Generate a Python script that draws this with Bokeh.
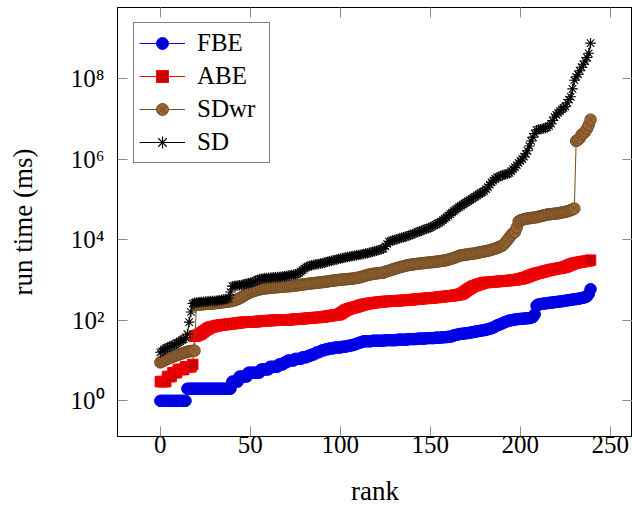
from bokeh.plotting import figure
from bokeh.models import Range1d, FixedTicker, LinearAxis, LogAxis, Legend, LegendItem
from bokeh.embed import file_html
from bokeh.resources import INLINE

# ---------------- data ----------------
fbe = [
    1, 1, 1, 1, 1, 1, 1, 1, 1, 1,
    1, 1, 1, 1, 1, 2, 2, 2, 2, 2,
    2, 2, 2, 2, 2, 2, 2, 2, 2, 2,
    2, 2, 2, 2, 2, 2, 2, 2, 2, 2,
    3, 3, 3, 3, 4, 4, 4, 4, 4, 5,
    5, 5, 5, 5, 5, 5, 6, 6, 6, 6,
    6, 7, 7, 7, 7, 7, 8, 8, 8, 9,
    9, 10, 10, 10, 10, 11, 11, 11, 11, 12,
    12, 12, 13, 13, 14, 14, 15, 16, 16, 17,
    18, 18, 19, 19, 20, 20, 20, 21, 21, 21,
    21, 22, 22, 22, 23, 23, 24, 24, 25, 26,
    27, 28, 29, 30, 30, 30, 30, 30, 31, 31,
    31, 31, 31, 31, 31, 32, 32, 32, 32, 32,
    32, 32, 33, 33, 33, 33, 33, 33, 34, 34,
    34, 34, 34, 35, 35, 35, 35, 35, 36, 36,
    36, 36, 36, 37, 37, 37, 37, 38, 38, 38,
    39, 39, 40, 42, 43, 44, 45, 46, 46, 47,
    48, 48, 49, 50, 51, 52, 53, 54, 55, 56,
    57, 58, 60, 62, 63, 66, 70, 74, 77, 80,
    84, 88, 92, 95, 98, 100, 102, 104, 106, 107,
    108, 109, 110, 111, 112, 113, 116, 120, 140, 230,
    245, 250, 255, 258, 262, 266, 270, 273, 277, 280,
    284, 287, 291, 295, 300, 305, 310, 315, 320, 325,
    330, 335, 340, 348, 355, 362, 372, 390, 450, 590,
]

abe = [
    3, 3, 3, 3, 4, 4, 4, 5, 5, 5,
    6, 6, 6, 6, 7, 7, 7, 7, 8, 40,
    41, 43, 45, 48, 52, 56, 60, 64, 67, 69,
    70, 72, 74, 75, 76, 77, 78, 79, 80, 81,
    82, 83, 84, 85, 86, 88, 89, 89, 90, 90,
    91, 91, 91, 92, 93, 94, 95, 96, 97, 97,
    98, 98, 99, 99, 100, 100, 100, 101, 101, 102,
    102, 102, 103, 104, 105, 106, 107, 108, 108, 109,
    110, 111, 112, 113, 114, 115, 116, 117, 118, 119,
    120, 122, 124, 126, 128, 130, 132, 134, 136, 138,
    145, 155, 165, 178, 185, 192, 198, 204, 209, 215,
    222, 230, 238, 245, 251, 256, 260, 264, 268, 272,
    276, 280, 283, 286, 289, 291, 293, 295, 297, 299,
    301, 303, 305, 307, 309, 311, 313, 315, 316, 320,
    324, 328, 332, 335, 338, 341, 344, 347, 350, 353,
    356, 359, 362, 366, 370, 375, 380, 384, 388, 392,
    396, 400, 405, 410, 418, 425, 435, 445, 468, 500,
    540, 580, 620, 660, 700, 720, 750, 780, 800, 830,
    860, 865, 870, 875, 880, 890, 900, 910, 920, 930,
    940, 950, 955, 960, 970, 980, 990, 1000, 1020, 1040,
    1060, 1090, 1120, 1150, 1200, 1250, 1300, 1350, 1400, 1450,
    1480, 1520, 1560, 1600, 1660, 1700, 1740, 1780, 1820, 1860,
    1900, 1930, 1960, 2000, 2050, 2100, 2200, 2300, 2400, 2500,
    2600, 2650, 2700, 2750, 2800, 2850, 2900, 2950, 3000, 3100,
]

sdwr = [
    9.0, 9.5, 10, 10.5, 11, 11.5, 12, 12.5, 13, 13.5,
    14, 14.5, 15, 15.5, 16, 16.5, 17, 17, 17.5, 17.5,
    240, 242, 245, 248, 250, 252, 254, 256, 258, 260,
    263, 266, 270, 273, 276, 280, 284, 288, 292, 296,
    302, 310, 320, 335, 350, 370, 395, 420, 445, 470,
    495, 515, 537, 550, 565, 580, 595, 605, 615, 622,
    630, 635, 642, 648, 655, 661, 667, 673, 679, 685,
    690, 695, 700, 707, 715, 725, 735, 747, 760, 770,
    780, 790, 800, 810, 820, 830, 840, 850, 860, 870,
    880, 890, 905, 920, 935, 950, 960, 970, 985, 1000,
    1010, 1020, 1030, 1040, 1050, 1060, 1070, 1080, 1100, 1120,
    1140, 1170, 1200, 1240, 1280, 1320, 1350, 1380, 1410, 1430,
    1450, 1470, 1490, 1500, 1510, 1600, 1650, 1700, 1760, 1820,
    1880, 1940, 2000, 2060, 2120, 2180, 2240, 2300, 2345, 2380,
    2420, 2450, 2480, 2520, 2550, 2580, 2610, 2640, 2670, 2700,
    2730, 2760, 2790, 2820, 2860, 2900, 2950, 3000, 3050, 3100,
    3200, 3300, 3400, 3500, 3650, 3800, 3980, 4050, 4120, 4190,
    4260, 4330, 4400, 4450, 4510, 4570, 4680, 4790, 4900, 5000,
    5100, 5200, 5300, 5450, 5620, 5800, 6000, 6200, 6500, 6800,
    7100, 7800, 8800, 10000, 11500, 13000, 14500, 15500, 20000, 28000,
    30000, 31000, 32000, 33000, 33500, 34000, 34500, 35000, 35500, 36000,
    37000, 38000, 39000, 40000, 41000, 42000, 42500, 43000, 43500, 44000,
    44500, 45000, 46000, 47000, 48000, 49000, 50000, 52000, 54000, 56000,
    59000, 2.8e6, 3.0e6, 3.3e6, 4.0e6, 4.3e6, 4.8e6, 5.6e6, 7.0e6, 9.5e6,
]

sd = [
    16, 17, 19, 20, 21, 22, 23, 24, 25, 27,
    28, 30, 32, 34, 37, 45, 90, 160, 260, 270,
    275, 280, 282, 285, 288, 290, 292, 295, 298, 300,
    302, 305, 310, 315, 320, 325, 330, 340, 355, 500,
    700, 710, 720, 730, 740, 750, 770, 790, 810, 830,
    850, 880, 910, 950, 1000, 1050, 1070, 1090, 1110, 1120,
    1130, 1140, 1150, 1160, 1170, 1180, 1190, 1200, 1220, 1240,
    1260, 1280, 1300, 1320, 1350, 1380, 1420, 1480, 1600, 1750,
    1900, 2050, 2150, 2250, 2300, 2350, 2400, 2450, 2500, 2550,
    2600, 2680, 2760, 2840, 2920, 3000, 3070, 3140, 3220, 3300,
    3380, 3460, 3540, 3620, 3700, 3780, 3860, 3940, 4000, 4080,
    4160, 4240, 4320, 4400, 4500, 4600, 4700, 4850, 5000, 5150,
    5300, 5450, 5600, 5800, 6000, 6800, 7800, 8900, 9200, 9500,
    9800, 10100, 10400, 10800, 11100, 11400, 11800, 12200, 12600, 13100,
    13600, 14200, 14800, 15400, 16000, 16600, 17300, 18000, 18700, 19400,
    20000, 21200, 22400, 23600, 24900, 26400, 28000, 30500, 33000, 36000,
    39500, 43000, 47000, 51000, 55500, 60000, 64000, 69000, 74000, 79000,
    84000, 90000, 96000, 103000, 110000, 117000, 125000, 134000, 143000, 152000,
    160000, 180000, 200000, 230000, 263000, 290000, 320000, 350000, 355000, 380000,
    400000, 410000, 420000, 430000, 450000, 500000, 560000, 620000, 700000, 800000,
    900000, 1.0e6, 1.15e6, 1.35e6, 1.6e6, 2.1e6, 2.8e6, 3.5e6, 4.3e6, 5.2e6,
    5.4e6, 5.5e6, 5.6e6, 5.7e6, 5.9e6, 6.2e6, 6.6e6, 7.5e6, 9.0e6, 1.1e7,
    1.25e7, 1.4e7, 1.55e7, 1.7e7, 1.85e7, 2.0e7, 2.5e7, 3.0e7, 3.5e7, 5.5e7,
    9.0e7, 1.1e8, 1.25e8, 1.55e8, 1.9e8, 2.25e8, 2.7e8, 3.3e8, 4.2e8, 7.5e8,
]

x_ticks = [0, 50, 100, 150, 200, 250]
y_ticks = [1, 1e2, 1e4, 1e6, 1e8]
y_tick_labels = {1: "10⁰", 100: "10²", 10000: "10⁴", 1000000: "10⁶", 100000000: "10⁸"}

FONT = "Liberation Serif"
FS_TICK = "25px"
FS_LABEL = "27px"
FS_LEGEND = "25px"

X_START, X_END = -23.8, 262.3

p = figure(
    width=632, height=508,
    x_range=Range1d(X_START, X_END),
    y_range=Range1d(10 ** -0.885, 10 ** 9.76),
    y_axis_type="log",
    output_backend="svg", toolbar_location=None,
    min_border_left=117, min_border_right=0, min_border_top=7, min_border_bottom=71,
)
p.background_fill_color = "white"
p.border_fill_color = "white"
p.outline_line_color = "black"
p.outline_line_width = 1
p.xgrid.visible = False
p.ygrid.visible = False


def style_axis(ax, labels=True):
    ax.axis_line_color = "black"
    ax.axis_line_width = 1
    ax.major_tick_in = 10
    ax.major_tick_out = 0
    ax.major_tick_line_color = "#8c8c8c"
    ax.major_tick_line_width = 1
    ax.minor_tick_in = 0
    ax.minor_tick_out = 0
    ax.minor_tick_line_color = None
    ax.major_label_text_font = FONT
    ax.major_label_text_color = "black"
    ax.axis_label_text_font = FONT
    ax.axis_label_text_font_style = "normal"
    ax.axis_label_text_font_size = FS_LABEL
    ax.axis_label_text_color = "black"
    if labels:
        ax.major_label_text_font_size = FS_TICK
    else:
        ax.major_label_text_font_size = "0px"
        ax.major_label_standoff = 0


xax = p.xaxis[0]
xax.ticker = FixedTicker(ticks=x_ticks)
style_axis(xax)
xax.major_label_standoff = -1
xax.axis_label = "rank"
xax.axis_label_standoff = 20

yax = p.yaxis[0]
yax.ticker = FixedTicker(ticks=y_ticks)
yax.major_label_overrides = y_tick_labels
style_axis(yax)
yax.major_label_standoff = 13
yax.axis_label = "run time (ms)"
yax.axis_label_standoff = 30

top = LinearAxis(ticker=FixedTicker(ticks=x_ticks))
style_axis(top, labels=False)
top.major_label_overrides = {t: "" for t in x_ticks}
p.add_layout(top, "above")

right = LogAxis(ticker=FixedTicker(ticks=y_ticks))
style_axis(right, labels=False)
right.major_label_overrides = {1: "", 100: "", 10000: "", 1000000: "", 100000000: ""}
p.add_layout(right, "right")

rank = list(range(len(fbe)))

l1 = p.line(rank, fbe, line_color="#0000FF", line_width=1)
s1 = p.scatter(rank, fbe, marker="circle", size=11.5, fill_color="#0000CC", line_color="#0000FF", line_width=1)

rank_a = list(range(len(abe)))
l2 = p.line(rank_a, abe, line_color="#FF0000", line_width=1)
s2 = p.scatter(rank_a, abe, marker="square", size=10.5, fill_color="#CC0000", line_color="#FF0000", line_width=1)

rank_w = list(range(len(sdwr)))
l3 = p.line(rank_w, sdwr, line_color="#734D26", line_width=1)
s3 = p.scatter(rank_w, sdwr, marker="circle_x", size=11.5, fill_color="#996633", line_color="#734D26", line_width=1)

rank_s = list(range(len(sd)))
l4 = p.line(rank_s, sd, line_color="black", line_width=1)
s4 = p.scatter(rank_s, sd, marker="asterisk", size=10.5, line_color="black", line_width=1.1)

legend = Legend(
    items=[
        LegendItem(label="FBE", renderers=[l1, s1]),
        LegendItem(label="ABE", renderers=[l2, s2]),
        LegendItem(label="SDwr", renderers=[l3, s3]),
        LegendItem(label="SD", renderers=[l4, s4]),
    ],
    location=(16, 273),
)
legend.label_text_font = FONT
legend.label_text_font_size = FS_LEGEND
legend.label_text_color = "black"
legend.border_line_color = "black"
legend.border_line_width = 1
legend.background_fill_color = "white"
legend.background_fill_alpha = 1
legend.glyph_width = 46
legend.glyph_height = 30
legend.label_height = 30
legend.label_width = 67
legend.label_standoff = 12
legend.padding = 5
legend.spacing = 3
legend.margin = 0
p.add_layout(legend, "center")

open("out.html", "w").write(file_html(p, INLINE))
